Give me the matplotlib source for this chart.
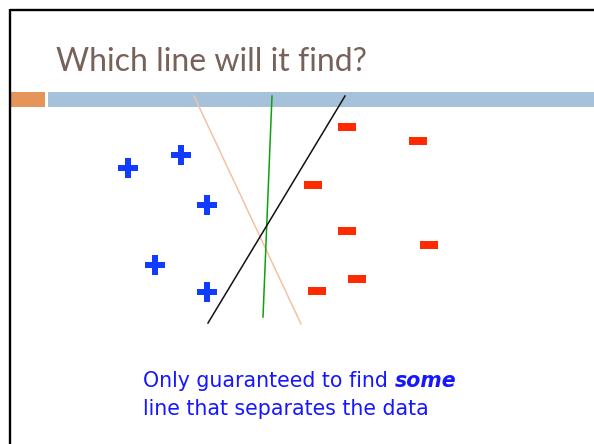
import matplotlib.pyplot as plt
from matplotlib.patches import Rectangle

# slide is drawn in pixel units (0..594 x 0..444, y pointing down)
title = "Which line will it find?"
caption_1 = "Only guaranteed to find "
caption_em = "some"
caption_2 = "line that separates the data"

# positive examples (+)
pos_x = [128, 181, 207, 155, 207]
pos_y = [168, 155, 205, 265, 292]

# negative examples (-)
neg_x = [347, 418, 313, 347, 429, 357, 317]
neg_y = [127.5, 141.5, 185.5, 230.5, 244.5, 278.5, 290.5]

# candidate separating lines: (x start, x end), (y start, y end)
line_names = ["peach", "green", "black"]
line_x = [[194, 301], [272, 263], [345, 208]]
line_y = [[96, 324], [96, 317], [96, 323]]
line_colors = ["#f3c2a3", "#10a010", "#111111"]

fig = plt.figure(figsize=(5.94, 4.44), dpi=100)
ax = fig.add_axes([0, 0, 1, 1])
ax.set_xlim(0, 594)
ax.set_ylim(444, 0)
ax.axis("off")

# slide frame
ax.plot([9.5, 594], [10.2, 10.2], color="black", lw=1.7, solid_capstyle="butt")
ax.plot([10.2, 10.2], [9.5, 444], color="black", lw=1.7, solid_capstyle="butt")

# header bars
ax.add_patch(Rectangle((10, 92), 35, 15, color="#e5955a", lw=0))
ax.add_patch(Rectangle((48, 92), 546, 15, color="#a5c2da", lw=0))

ax.text(56, 71, title, fontsize=23, color="#76625a", family="Lato",
        va="baseline", ha="left")

for name, xs, ys, c in zip(line_names, line_x, line_y, line_colors):
    ax.plot(xs, ys, color=c, lw=1.1, label=name)

# thick plus and flat minus glyphs
a = 0.31
plus = [(-a, -1), (a, -1), (a, -a), (1, -a), (1, a), (a, a), (a, 1),
        (-a, 1), (-a, a), (-1, a), (-1, -a), (-a, -a), (-a, -1)]
ax.plot(pos_x, pos_y, ls="none", marker=plus, ms=14.4, color="#0f3cff",
        markeredgewidth=0)
minus = [(-9, -3.5), (9, -3.5), (9, 3.5), (-9, 3.5), (-9, -3.5)]
ax.plot(neg_x, neg_y, ls="none", marker=minus, ms=13, color="#ff2a00",
        markeredgewidth=0)

blue = "#1717ff"
t1 = ax.text(143, 387, caption_1, fontsize=14.8, color=blue,
             family="DejaVu Sans", va="baseline", ha="left")
ax.annotate(caption_em, xy=(1, 0), xycoords=t1, fontsize=14.8, color=blue,
            family="DejaVu Sans", fontweight="bold", fontstyle="italic",
            va="bottom", ha="left")
ax.text(143, 415, caption_2, fontsize=14.8, color=blue, family="DejaVu Sans",
        va="baseline", ha="left")

fig.savefig("out.png", dpi=100)
